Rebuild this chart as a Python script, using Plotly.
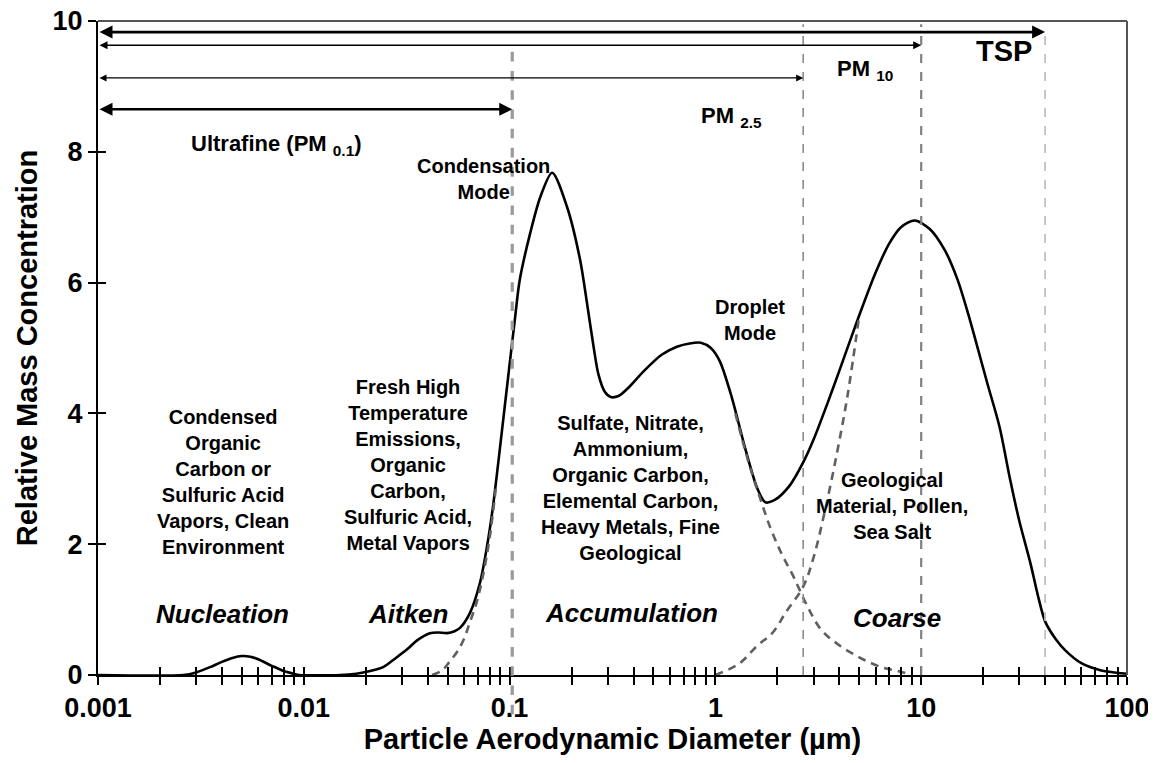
import numpy as np
import plotly.graph_objects as go

# ---------------- data ----------------
diameter_um = [0.001, 0.0026, 0.003, 0.0035, 0.004, 0.0045, 0.005, 0.0055, 0.006, 0.007,
               0.008, 0.009, 0.0095, 0.015, 0.018, 0.021, 0.0243, 0.028, 0.032, 0.0355,
               0.041, 0.045, 0.0497, 0.054, 0.0574, 0.0642, 0.0718, 0.0776, 0.083, 0.09,
               0.1, 0.106, 0.112, 0.126, 0.141, 0.161, 0.19, 0.22, 0.24, 0.255,
               0.27, 0.29, 0.31, 0.34, 0.38, 0.45, 0.55, 0.65, 0.75, 0.85,
               0.95, 1.05, 1.2, 1.4, 1.6, 1.75, 1.95, 2.3, 2.67, 3.0,
               3.5, 4.0, 5.0, 6.0, 7.0, 8.0, 9.3, 11, 13, 15,
               17, 19, 21, 24, 27, 30, 34, 37, 40, 45,
               50, 60, 75, 100]
total_mass = [0, 0, 0.04, 0.12, 0.2, 0.26, 0.29, 0.28, 0.24, 0.14,
              0.06, 0.015, 0, 0, 0.02, 0.06, 0.12, 0.26, 0.4, 0.53,
              0.64, 0.65, 0.64, 0.67, 0.72, 0.95, 1.41, 1.96, 2.57, 3.5,
              4.75, 5.43, 6.04, 6.76, 7.31, 7.68, 7.16, 6.35, 5.6, 5.05,
              4.6, 4.33, 4.25, 4.27, 4.4, 4.65, 4.9, 5.02, 5.07, 5.08,
              5.0, 4.8, 4.25, 3.45, 2.85, 2.64, 2.68, 2.9, 3.25, 3.6,
              4.15, 4.65, 5.5, 6.15, 6.6, 6.85, 6.95, 6.82, 6.5, 6.05,
              5.5, 4.95, 4.45, 3.8, 3.0, 2.35, 1.7, 1.2, 0.82, 0.55,
              0.38, 0.18, 0.07, 0.02]

condensation_x = [0.042, 0.047, 0.051, 0.056, 0.06, 0.064, 0.069, 0.074, 0.08, 0.086]
condensation_y = [0.0, 0.07, 0.2, 0.37, 0.55, 0.8, 1.1, 1.5, 2.1, 2.9]

droplet_x = [1.25, 1.45, 1.65, 1.85, 2.1, 2.4, 2.75, 3.25, 3.9, 5.0, 6.4, 7.7, 9.0]
droplet_y = [4.0, 3.25, 2.7, 2.25, 1.85, 1.5, 1.1, 0.7, 0.48, 0.27, 0.12, 0.06, 0.0]

coarse_x = [1.0, 1.3, 1.6, 1.9, 2.2, 2.67, 3.0, 3.4, 3.9, 4.4, 5.0]
coarse_y = [0.0, 0.17, 0.45, 0.65, 0.96, 1.35, 1.8, 2.5, 3.4, 4.3, 5.5]

# size-fraction cut points (um) and the level of their range arrows
fraction_names = ["Ultrafine", "PM2.5", "PM10", "TSP"]
fraction_cut_um = [0.103, 2.67, 10, 40]
fraction_arrow_level = [8.65, 9.13, 9.63, 9.83]
range_start_um = 0.001

x_decades = [0.001, 0.01, 0.1, 1, 10, 100]
x_decade_labels = ["0.001", "0.01", "0.1", "1", "10", "100"]
y_ticks = [0, 2, 4, 6, 8, 10]

# ---------------- figure ----------------
FONT = "Liberation Sans, Arial, sans-serif"
fig = go.Figure()

fig.add_trace(go.Scatter(x=diameter_um, y=total_mass, mode="lines",
                         line=dict(color="black", width=2.6, shape="spline", smoothing=0.8),
                         hoverinfo="skip", showlegend=False))
for xs, ys in [(condensation_x, condensation_y), (droplet_x, droplet_y), (coarse_x, coarse_y)]:
    fig.add_trace(go.Scatter(x=xs, y=ys, mode="lines", xaxis="x2", yaxis="y2",
                             line=dict(color="#606060", width=2.6, dash="8px,6px", shape="spline"),
                             hoverinfo="skip", showlegend=False))

# tick positions: decades plus 2..9 minor positions
tickvals, ticktext = [], []
for i, d in enumerate(x_decades):
    tickvals.append(d)
    ticktext.append("<b>%s</b>" % x_decade_labels[i])
    if d < 100:
        for k in range(2, 10):
            tickvals.append(k * d)
            ticktext.append("")

# vertical cut lines
vstyles = [dict(color="#9a9a9a", width=3.2, y0=-0.06, y1=0.96),
           dict(color="#8a8a8a", width=1.6, y0=0, y1=0.995),
           dict(color="#808080", width=2.2, y0=0, y1=0.995),
           dict(color="#c0c0c0", width=1.8, y0=0, y1=0.99)]
for cut, st in zip(fraction_cut_um, vstyles):
    fig.add_shape(type="line", xref="x", yref="paper", x0=cut, x1=cut, y0=st["y0"], y1=st["y1"],
                  line=dict(color=st["color"], width=st["width"], dash="dash"), layer="above")

# frame top / right
fig.add_shape(type="line", xref="paper", yref="paper", x0=0, x1=1, y0=1, y1=1,
              line=dict(color="#555", width=2))
fig.add_shape(type="line", xref="paper", yref="paper", x0=1, x1=1, y0=0, y1=1,
              line=dict(color="#555", width=2))

# range arrows
arrow_widths = [2.6, 1.4, 1.6, 2.6]
for cut, lvl, w in zip(fraction_cut_um, fraction_arrow_level, arrow_widths):
    fig.add_annotation(x=np.log10(cut), y=lvl, ax=np.log10(range_start_um), ay=lvl,
                       xref="x", yref="y", axref="x", ayref="y", text="",
                       showarrow=True, arrowhead=2, startarrowhead=2, arrowside="end+start",
                       arrowsize=1.0, startarrowsize=1.0, arrowwidth=w, arrowcolor="black",
                       standoff=0, startstandoff=0)

# text labels
labels = [
    ("Ultrafine (PM <sub>0.1</sub>)", 0.0074, 8.1, 22, False),
    ("Condensation<br>Mode", 0.0743, 7.58, 20, False),
    ("PM <sub>2.5</sub>", 1.2, 8.53, 22, False),
    ("PM <sub>10</sub>", 5.33, 9.25, 22, False),
    ("TSP", 25.2, 9.54, 29, False),
    ("Droplet<br>Mode", 1.47, 5.43, 20, False),
    ("Condensed<br>Organic<br>Carbon or<br>Sulfuric Acid<br>Vapors, Clean<br>Environment", 0.00405, 2.95, 20, False),
    ("Fresh High<br>Temperature<br>Emissions,<br>Organic<br>Carbon,<br>Sulfuric Acid,<br>Metal Vapors", 0.0321, 3.21, 20, False),
    ("Sulfate, Nitrate,<br>Ammonium,<br>Organic Carbon,<br>Elemental Carbon,<br>Heavy Metals, Fine<br>Geological", 0.385, 2.86, 20, False),
    ("Geological<br>Material, Pollen,<br>Sea Salt", 7.21, 2.58, 20, False),
    ("Nucleation", 0.00401, 0.93, 26, True),
    ("Aitken", 0.0321, 0.93, 26, True),
    ("Accumulation", 0.389, 0.95, 26, True),
    ("Coarse", 7.62, 0.87, 26, True),
]
for txt, xv, yv, fs, italic in labels:
    t = "<b>%s</b>" % txt
    if italic:
        t = "<i>%s</i>" % t
    fig.add_annotation(x=np.log10(xv), y=yv, xref="x", yref="y", text=t, showarrow=False,
                       align="center", xanchor="center", yanchor="middle",
                       font=dict(family=FONT, size=fs, color="black"))

axis_common = dict(showgrid=False, zeroline=False)
# page body has an 8 px margin, so the figure is 8 px smaller and margins shifted
fig.update_layout(
    width=1148, height=755,
    margin=dict(l=90, r=29, t=13, b=88),
    plot_bgcolor="white", paper_bgcolor="white",
    font=dict(family=FONT, color="black"),
    xaxis=dict(type="log", range=[-3, 2], tickvals=tickvals, ticktext=ticktext,
               ticks="outside", ticklen=8, tickwidth=1.5, tickcolor="black",
               showline=True, linecolor="black", linewidth=2, ticklabeloverflow="allow",
               tickfont=dict(family=FONT, size=27, color="black"),
               title=dict(text="<b>Particle Aerodynamic Diameter (µm)</b>",
                          font=dict(family=FONT, size=29, color="black"), standoff=6),
               automargin=False, **axis_common),
    yaxis=dict(range=[0, 10], tickvals=y_ticks, ticktext=["<b>%d</b>" % v for v in y_ticks],
               ticks="outside", ticklen=8, tickwidth=1.5, tickcolor="black",
               showline=True, linecolor="black", linewidth=2, ticklabeloverflow="allow",
               tickfont=dict(family=FONT, size=27, color="black"),
               title=dict(text="<b>Relative Mass Concentration</b>",
                          font=dict(family=FONT, size=29, color="black"), standoff=6),
               automargin=False, **axis_common),
    xaxis2=dict(type="log", range=[-3, 2], overlaying="x", anchor="y2", tickvals=tickvals,
                ticks="inside", ticklen=8, tickwidth=1.5, tickcolor="black",
                showticklabels=False, showline=False, **axis_common),
    yaxis2=dict(range=[0, 10], overlaying="y", anchor="x2", tickvals=y_ticks,
                ticks="inside", ticklen=8, tickwidth=1.5, tickcolor="black",
                showticklabels=False, showline=False, **axis_common),
)

fig.write_html("out.html")
